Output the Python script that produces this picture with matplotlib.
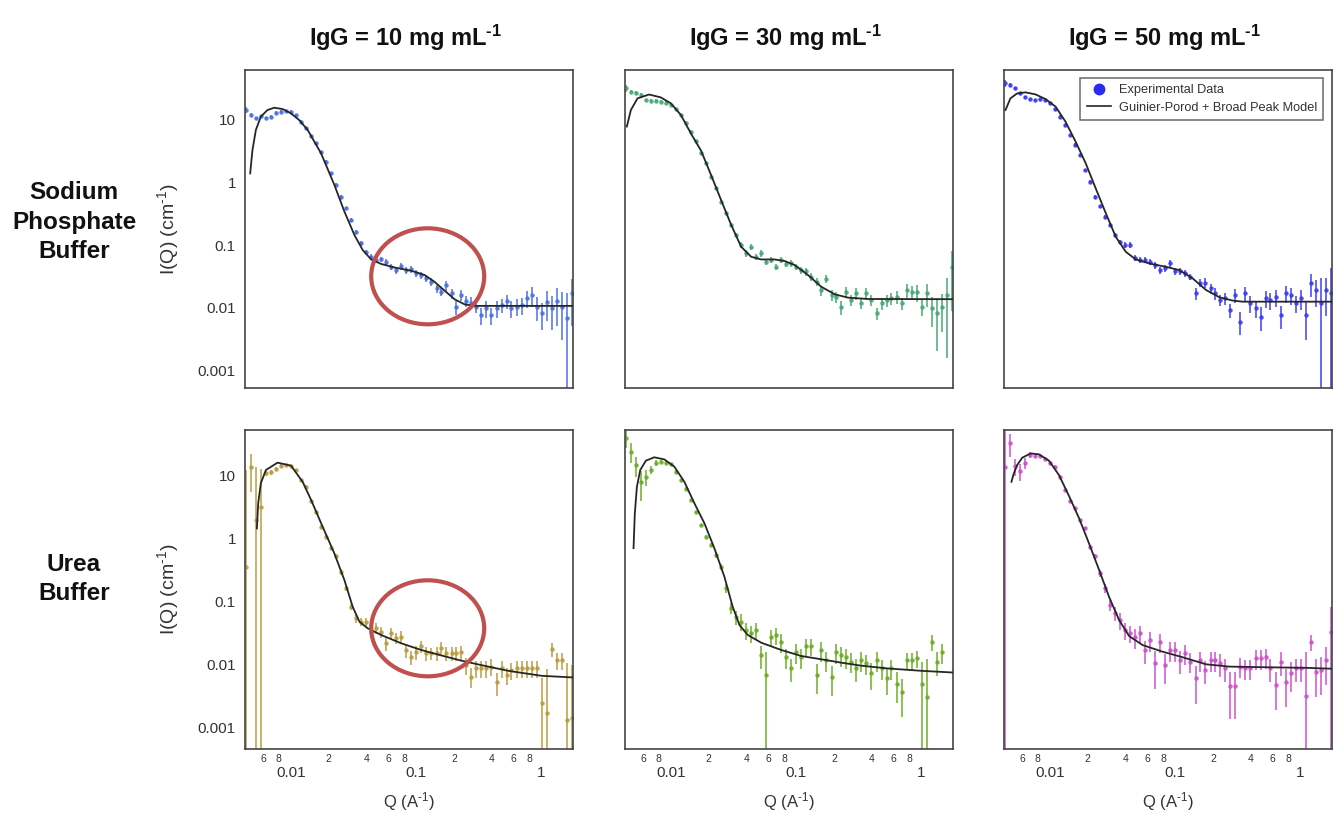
import numpy as np
import matplotlib
matplotlib.use("Agg")
import matplotlib.pyplot as plt
from matplotlib.patches import Ellipse
from matplotlib.lines import Line2D
from matplotlib.ticker import FixedLocator, FixedFormatter, NullFormatter, NullLocator

plt.rcParams['font.family'] = ['Liberation Sans', 'DejaVu Sans']
plt.rcParams['mathtext.fontset'] = 'custom'
plt.rcParams['mathtext.rm'] = 'Liberation Sans'
plt.rcParams['mathtext.it'] = 'Liberation Sans'
plt.rcParams['mathtext.bf'] = 'Liberation Sans:bold'

# ---------------- data ----------------
q = [0.00437, 0.00479, 0.00525, 0.00575, 0.00631, 0.00692, 0.00759, 0.00832, 0.00912, 0.0100,
     0.0110, 0.0120, 0.0132, 0.0145, 0.0158, 0.0174, 0.0191, 0.0209, 0.0229, 0.0251,
     0.0275, 0.0302, 0.0331, 0.0363, 0.0398, 0.0437, 0.0479, 0.0525, 0.0575, 0.0631,
     0.0692, 0.0759, 0.0832, 0.0912, 0.100, 0.110, 0.120, 0.132, 0.145, 0.158,
     0.174, 0.191, 0.209, 0.229, 0.251, 0.275, 0.302, 0.331, 0.363, 0.398,
     0.437, 0.479, 0.525, 0.575, 0.631, 0.692, 0.759, 0.832, 0.912, 1.00,
     1.10, 1.20, 1.32, 1.45, 1.58, 1.74]

# Sodium phosphate buffer
i_np10 = [14.0, 11.6, 10.2, 11.1, 10.2, 10.9, 12.6, 13.1, 13.4, 13.1,
          11.6, 9.1, 7.1, 5.4, 4.1, 3.0, 2.1, 1.37, 0.90, 0.58,
          0.38, 0.25, 0.163, 0.106, 0.078, 0.065, 0.058, 0.059, 0.054, 0.045,
          0.040, 0.046, 0.040, 0.041, 0.0355, 0.033, 0.0295, 0.026, 0.0205, 0.018,
          0.023, 0.017, 0.0105, 0.016, 0.013, 0.0122, 0.0105, 0.0077, 0.0099, 0.0077,
          0.0099, 0.0112, 0.0130, 0.0099, 0.0105, 0.0112, 0.0142, 0.016, 0.0105, 0.0082,
          0.0126, 0.0099, 0.0130, 0.0105, 0.0069, 0.017]
err_np10 = [0.10, 0.08, 0.06, 0.06, 0.05, 0.05, 0.05, 0.05, 0.05, 0.05,
            0.05, 0.05, 0.05, 0.05, 0.05, 0.05, 0.05, 0.05, 0.06, 0.06,
            0.06, 0.06, 0.08, 0.08, 0.08, 0.10, 0.10, 0.10, 0.10, 0.10,
            0.12, 0.12, 0.12, 0.12, 0.12, 0.12, 0.12, 0.14, 0.15, 0.15,
            0.18, 0.18, 0.25, 0.20, 0.20, 0.22, 0.22, 0.30, 0.30, 0.30,
            0.30, 0.25, 0.25, 0.30, 0.30, 0.30, 0.30, 0.35, 0.40, 0.45,
            0.50, 0.55, 0.60, 0.70, 1.50, 0.70]
i_np30 = [31.0, 27.0, 26.0, 24.0, 20.0, 19.5, 19.5, 18.8, 18.2, 16.7,
          14.2, 11.6, 8.7, 6.3, 4.4, 2.85, 1.98, 1.22, 0.79, 0.49,
          0.32, 0.21, 0.144, 0.10, 0.074, 0.094, 0.065, 0.074, 0.054, 0.058,
          0.045, 0.058, 0.050, 0.051, 0.045, 0.040, 0.038, 0.0315, 0.026, 0.019,
          0.029, 0.016, 0.0148, 0.0105, 0.018, 0.0133, 0.017, 0.012, 0.017, 0.0133,
          0.0082, 0.012, 0.0133, 0.0142, 0.015, 0.012, 0.019, 0.018, 0.018, 0.0105,
          0.017, 0.0099, 0.0082, 0.0105, 0.016, 0.045]
err_np30 = [0.12, 0.08, 0.06, 0.06, 0.05, 0.05, 0.05, 0.05, 0.05, 0.05,
            0.05, 0.05, 0.05, 0.05, 0.05, 0.05, 0.05, 0.06, 0.06, 0.06,
            0.06, 0.08, 0.08, 0.10, 0.12, 0.12, 0.12, 0.12, 0.12, 0.12,
            0.12, 0.12, 0.12, 0.12, 0.12, 0.12, 0.14, 0.15, 0.15, 0.18,
            0.15, 0.20, 0.20, 0.25, 0.20, 0.20, 0.20, 0.20, 0.20, 0.20,
            0.22, 0.22, 0.22, 0.22, 0.22, 0.22, 0.25, 0.25, 0.30, 0.30,
            0.40, 0.50, 0.75, 0.60, 0.90, 0.80]
i_np50 = [37.0, 35.0, 30.7, 25.5, 22.0, 20.5, 20.0, 20.7, 20.0, 17.7,
          14.2, 10.9, 8.0, 5.6, 3.9, 2.7, 1.55, 1.01, 0.58, 0.41,
          0.28, 0.21, 0.144, 0.113, 0.10, 0.10, 0.062, 0.058, 0.058, 0.054,
          0.048, 0.040, 0.043, 0.051, 0.038, 0.038, 0.0355, 0.0315, 0.017, 0.025,
          0.025, 0.0205, 0.017, 0.0133, 0.0142, 0.0093, 0.016, 0.0061, 0.017, 0.012,
          0.0099, 0.0073, 0.0142, 0.0133, 0.015, 0.0077, 0.017, 0.016, 0.012, 0.0142,
          0.0077, 0.025, 0.019, 0.012, 0.019, 0.017]
err_np50 = [0.12, 0.08, 0.06, 0.06, 0.05, 0.05, 0.05, 0.05, 0.05, 0.05,
            0.05, 0.05, 0.05, 0.05, 0.05, 0.05, 0.05, 0.05, 0.06, 0.06,
            0.06, 0.06, 0.08, 0.08, 0.10, 0.10, 0.10, 0.10, 0.10, 0.12,
            0.12, 0.12, 0.12, 0.12, 0.12, 0.12, 0.12, 0.12, 0.20, 0.15,
            0.18, 0.18, 0.20, 0.20, 0.22, 0.25, 0.25, 0.40, 0.25, 0.30,
            0.30, 0.40, 0.30, 0.30, 0.30, 0.40, 0.30, 0.30, 0.30, 0.35,
            0.60, 0.40, 0.45, 1.50, 0.60, 1.50]

# Urea buffer
i_urea10 = [0.35, 13.5, 1.93, 3.1, 10.6, 11.0, 12.5, 14.0, 14.5, 13.9,
            12.0, 8.3, 6.5, 3.8, 2.6, 1.51, 1.05, 0.69, 0.51, 0.29,
            0.16, 0.081, 0.053, 0.047, 0.047, 0.0326, 0.037, 0.0326, 0.0213, 0.0307,
            0.0256, 0.027, 0.0166, 0.013, 0.0156, 0.019, 0.0148, 0.0148, 0.0148, 0.018,
            0.0148, 0.0148, 0.0148, 0.0156, 0.0096, 0.0063, 0.0085, 0.0085, 0.0085, 0.0091,
            0.0052, 0.0085, 0.0067, 0.0080, 0.0085, 0.0085, 0.0085, 0.0085, 0.0085, 0.0024,
            0.00166, 0.0172, 0.0116, 0.0116, 0.00129, 0.0014]
err_urea10 = [33.0, 0.60, 6.0, 3.0, 0.10, 0.10, 0.08, 0.06, 0.05, 0.05,
              0.05, 0.05, 0.05, 0.05, 0.05, 0.05, 0.06, 0.08, 0.10, 0.10,
              0.10, 0.12, 0.15, 0.15, 0.15, 0.20, 0.20, 0.20, 0.25, 0.20,
              0.20, 0.22, 0.25, 0.25, 0.25, 0.22, 0.25, 0.22, 0.25, 0.22,
              0.25, 0.25, 0.25, 0.25, 0.30, 0.35, 0.30, 0.30, 0.30, 0.30,
              0.40, 0.30, 0.30, 0.30, 0.30, 0.30, 0.30, 0.30, 0.30, 1.50,
              4.00, 0.25, 0.30, 0.30, 7.00, 6.00]
i_urea30 = [38.0, 23.5, 14.4, 7.8, 9.4, 12.0, 15.7, 16.3, 15.7, 15.0,
            11.3, 8.3, 6.1, 4.0, 2.6, 1.61, 1.05, 0.77, 0.54, 0.35,
            0.16, 0.077, 0.056, 0.047, 0.0347, 0.0307, 0.0347, 0.0139, 0.0067, 0.027,
            0.0289, 0.0226, 0.013, 0.0085, 0.0156, 0.013, 0.019, 0.019, 0.0067, 0.0166,
            0.0116, 0.0063, 0.0156, 0.0139, 0.013, 0.0109, 0.0085, 0.0116, 0.0103, 0.0071,
            0.0116, 0.0085, 0.0059, 0.0085, 0.0049, 0.0036, 0.0116, 0.0116, 0.0123, 0.0049,
            0.0030, 0.0226, 0.0109, 0.0156, float('nan'), float('nan')]
err_urea30 = [0.30, 0.35, 0.35, 0.50, 0.30, 0.15, 0.10, 0.05, 0.05, 0.05,
              0.05, 0.05, 0.05, 0.05, 0.05, 0.05, 0.06, 0.08, 0.10, 0.12,
              0.15, 0.20, 0.25, 0.30, 0.30, 0.30, 0.30, 0.40, 1.30, 0.30,
              0.30, 0.35, 0.35, 0.40, 0.35, 0.35, 0.30, 0.30, 0.50, 0.35,
              0.35, 0.50, 0.35, 0.35, 0.35, 0.35, 0.40, 0.35, 0.35, 0.45,
              0.35, 0.35, 0.45, 0.35, 0.50, 0.60, 0.30, 0.30, 0.30, 1.20,
              3.00, 0.30, 0.40, 0.35, 0.30, 0.30]
i_urea50 = [13.5, 32.0, 14.0, 11.5, 15.3, 21.0, 20.0, 20.0, 18.0, 15.3,
            13.5, 9.4, 5.8, 3.8, 2.96, 1.93, 1.42, 0.73, 0.51, 0.275,
            0.16, 0.086, 0.064, 0.050, 0.0347, 0.0307, 0.027, 0.0307, 0.0166, 0.024,
            0.0102, 0.0226, 0.0096, 0.0166, 0.0166, 0.0116, 0.0148, 0.0109, 0.0059, 0.0116,
            0.0080, 0.0116, 0.0116, 0.0102, 0.0085, 0.0044, 0.0044, 0.0091, 0.0085, 0.0085,
            0.0123, 0.0123, 0.0130, 0.0085, 0.0047, 0.0109, 0.0052, 0.0071, 0.0085, 0.0085,
            0.0031, 0.0226, 0.0076, 0.0080, 0.0116, 0.032]
err_urea50 = [5.00, 0.40, 0.30, 0.30, 0.20, 0.10, 0.05, 0.05, 0.05, 0.05,
              0.05, 0.05, 0.05, 0.05, 0.05, 0.05, 0.06, 0.08, 0.10, 0.12,
              0.15, 0.20, 0.25, 0.30, 0.30, 0.30, 0.35, 0.30, 0.40, 0.35,
              0.60, 0.35, 0.50, 0.35, 0.35, 0.40, 0.35, 0.35, 0.60, 0.35,
              0.40, 0.35, 0.35, 0.40, 0.40, 0.70, 0.70, 0.35, 0.35, 0.35,
              0.35, 0.35, 0.35, 0.40, 0.60, 0.40, 0.60, 0.50, 0.40, 0.40,
              4.00, 0.30, 0.60, 0.60, 0.60, 1.50]

# Guinier-Porod + Broad Peak model curves
mq_np10 = [0.00473, 0.00493, 0.00525, 0.00575, 0.0065, 0.00736, 0.00858, 0.0100, 0.01166, 0.0136,
           0.0174, 0.0222, 0.0267, 0.0321, 0.0374, 0.0437, 0.0525, 0.0671, 0.0912, 0.1166,
           0.140, 0.1686, 0.2027, 0.2437, 0.293, 1.85]
mi_np10 = [1.37, 3.2, 6.7, 10.9, 13.9, 15.1, 14.4, 12.3, 9.6, 6.7,
           2.85, 0.90, 0.34, 0.144, 0.083, 0.059, 0.050, 0.044, 0.039, 0.0334,
           0.026, 0.0188, 0.0137, 0.0114, 0.0108, 0.0108]
mq_np30 = [0.00445, 0.00479, 0.00541, 0.00671, 0.00832, 0.0100, 0.0120, 0.0145, 0.0174, 0.0209,
           0.0251, 0.0302, 0.0363, 0.0437, 0.0525, 0.0671, 0.0807, 0.097, 0.124, 0.158,
           0.2027, 0.259, 0.374, 1.85]
mi_np30 = [7.6, 13.9, 21.3, 24.5, 22.0, 17.7, 11.6, 5.8, 3.14, 1.29,
           0.52, 0.21, 0.094, 0.065, 0.059, 0.059, 0.0557, 0.048, 0.0334, 0.0218,
           0.0165, 0.0146, 0.0139, 0.0138]
mq_np50 = [0.00442, 0.00484, 0.00548, 0.00638, 0.00767, 0.00923, 0.0111, 0.0133, 0.0160, 0.0193,
           0.0232, 0.0279, 0.0335, 0.0403, 0.0484, 0.0619, 0.0842, 0.1076, 0.1377, 0.176,
           0.225, 0.288, 0.346, 1.85]
mi_np50 = [13.9, 21.3, 25.5, 26.5, 24.6, 20.7, 15.7, 9.1, 4.4, 1.98,
           0.79, 0.32, 0.135, 0.078, 0.059, 0.051, 0.045, 0.040, 0.0295, 0.0193,
           0.0148, 0.0131, 0.0126, 0.0126]
mq_urea10 = [0.00535, 0.00548, 0.00575, 0.00631, 0.00782, 0.0100, 0.0124, 0.0145, 0.0179, 0.0222,
             0.0267, 0.0311, 0.0352, 0.0410, 0.0525, 0.0759, 0.1096, 0.158, 0.229, 0.331,
             0.541, 1.00, 1.85]
mi_urea10 = [1.42, 3.55, 7.4, 12.0, 15.7, 14.1, 7.8, 4.0, 1.51, 0.57,
             0.215, 0.081, 0.047, 0.0368, 0.0289, 0.0213, 0.0167, 0.0137, 0.0113, 0.0096,
             0.0078, 0.0065, 0.0061]
mq_urea30 = [0.00503, 0.00515, 0.00535, 0.00569, 0.00631, 0.00736, 0.00885, 0.01063, 0.0128, 0.0154,
             0.0185, 0.0222, 0.0267, 0.0311, 0.0352, 0.0410, 0.0525, 0.0759, 0.1096, 0.158,
             0.229, 0.331, 0.541, 1.00, 1.85]
mi_urea30 = [0.69, 2.46, 6.5, 12.0, 16.9, 19.1, 17.7, 13.6, 7.8, 3.55,
             1.71, 0.69, 0.243, 0.081, 0.0416, 0.0289, 0.0218, 0.0167, 0.0134, 0.0119,
             0.0105, 0.0094, 0.0085, 0.0078, 0.0073]
mq_urea50 = [0.00493, 0.00515, 0.00548, 0.00601, 0.0070, 0.00817, 0.00982, 0.0118, 0.0142, 0.0171,
             0.0205, 0.0247, 0.0296, 0.0356, 0.0428, 0.0548, 0.0792, 0.1146, 0.176, 0.270,
             0.50, 1.11, 1.85]
mi_urea50 = [7.8, 10.6, 14.4, 18.8, 22.0, 21.3, 16.9, 10.0, 4.64, 2.05,
             0.82, 0.31, 0.117, 0.050, 0.0278, 0.020, 0.0157, 0.0128, 0.0099, 0.0091,
             0.0089, 0.0087, 0.0084]

HY = "\u2010"  # hyphen used in superscripts
col_titles = ["IgG = 10 mg mL$^{\\mathbf{" + HY + "1}}$", "IgG = 30 mg mL$^{\\mathbf{" + HY + "1}}$",
              "IgG = 50 mg mL$^{\\mathbf{" + HY + "1}}$"]
row_titles = ["Sodium\nPhosphate\nBuffer", "Urea\nBuffer"]
y_title = "I(Q) (cm$^{" + HY + "1}$)"
x_title = "Q (A$^{" + HY + "1}$)"
y_ticks = [0.001, 0.01, 0.1, 1, 10]
y_ticklabels = ["0.001", "0.01", "0.1", "1", "10"]
x_major = [0.01, 0.1, 1]
x_major_labels = ["0.01", "0.1", "1"]
x_minor = [0.006, 0.008, 0.02, 0.04, 0.06, 0.08, 0.2, 0.4, 0.6, 0.8]
x_minor_labels = ["6", "8", "2", "4", "6", "8", "2", "4", "6", "8"]
legend_labels = ["Experimental Data", "Guinier-Porod + Broad Peak Model"]

panels = [
    (0, 0, i_np10, err_np10, mq_np10, mi_np10, "#4a6fe3"),
    (0, 1, i_np30, err_np30, mq_np30, mi_np30, "#45a874"),
    (0, 2, i_np50, err_np50, mq_np50, mi_np50, "#3a3af2"),
    (1, 0, i_urea10, err_urea10, mq_urea10, mi_urea10, "#bb9a3f"),
    (1, 1, i_urea30, err_urea30, mq_urea30, mi_urea30, "#6aac24"),
    (1, 2, i_urea50, err_urea50, mq_urea50, mi_urea50, "#cc4fcc"),
]

# ---------------- layout ----------------
W, H = 1343, 822
fig = plt.figure(figsize=(W / 100, H / 100), dpi=100)
col_x = [245, 625, 1004]
ax_w = 328
row_y = [(70, 388), (430, 749)]
ylims = [(0.000537, 60.0), (0.000448, 51.8)]
xlim = (0.0043, 1.78)
tick_col = "#333333"

axes = {}
for (r, c, ivals, evals, mq, mi, color) in panels:
    y0, y1 = row_y[r]
    x0 = col_x[c]
    ax = fig.add_axes([x0 / W, 1 - y1 / H, ax_w / W, (y1 - y0) / H])
    axes[(r, c)] = ax
    ax.set_xscale('log')
    ax.set_yscale('log')
    I = np.array(ivals, dtype=float)
    rr = np.array(evals, dtype=float)
    upper = I * rr
    lower = np.where(rr >= 1.0, I - 1e-6, I * rr)
    ax.errorbar(q, I, yerr=[lower, upper], fmt='o', color=color, ecolor=color,
                elinewidth=1.2, ms=3.2, mew=0, capsize=0, alpha=0.9, zorder=2)
    ax.plot(mq, mi, color='#262626', lw=1.3, zorder=3)
    ax.set_xlim(*xlim)
    ax.set_ylim(*ylims[r])
    for s in ax.spines.values():
        s.set_color('#444444')
        s.set_linewidth(1.2)
    ax.yaxis.set_major_locator(FixedLocator(y_ticks))
    ax.yaxis.set_minor_locator(NullLocator())
    if c == 0:
        ax.yaxis.set_major_formatter(FixedFormatter(y_ticklabels))
        ax.set_ylabel(y_title, fontsize=14, color=tick_col)
        ax.yaxis.set_label_coords(-(245 - 181) / ax_w, 0.5)
    else:
        ax.yaxis.set_major_formatter(NullFormatter())
    ax.xaxis.set_major_locator(FixedLocator(x_major))
    ax.xaxis.set_minor_locator(FixedLocator(x_minor))
    if r == 1:
        ax.xaxis.set_major_formatter(FixedFormatter(x_major_labels))
        ax.xaxis.set_minor_formatter(FixedFormatter(x_minor_labels))
        ax.set_xlabel(x_title, fontsize=12, color=tick_col)
        ax.xaxis.set_label_coords(0.5, -(790 - 749) / (y1 - y0))
    else:
        ax.xaxis.set_major_formatter(NullFormatter())
        ax.xaxis.set_minor_formatter(NullFormatter())
    ax.tick_params(axis='y', which='both', length=0, pad=6.5, labelsize=11, labelcolor=tick_col)
    ax.tick_params(axis='x', which='major', length=0, pad=12.5, labelsize=11, labelcolor=tick_col)
    ax.tick_params(axis='x', which='minor', length=0, pad=3.5, labelsize=7.5, labelcolor=tick_col)

# legend in the top-right panel
handles = [Line2D([], [], marker='o', ls='none', color='#2a2af0', ms=7.5),
           Line2D([], [], color='#262626', lw=1.2)]
leg = axes[(0, 2)].legend(handles, legend_labels, loc='upper right',
                          bbox_to_anchor=(0.973, 0.976), fontsize=9.2, frameon=True,
                          fancybox=False, handlelength=1.9, handletextpad=0.6,
                          borderpad=0.5, labelspacing=0.45, borderaxespad=0)
leg.get_frame().set_edgecolor('#444444')
leg.get_frame().set_linewidth(1.1)
for t in leg.get_texts():
    t.set_color(tick_col)

# column titles
for c, t in enumerate(col_titles):
    cx = (col_x[c] + ax_w / 2 - 4) / W
    fig.text(cx, 1 - 38 / H, t, ha='center', va='center', fontsize=17,
             fontweight='bold', color='#111111')

# row titles
fig.text(74 / W, 1 - 222 / H, row_titles[0], ha='center', va='center', fontsize=17.5,
         fontweight='bold', linespacing=1.38, color='#111111')
fig.text(74 / W, 1 - 579 / H, row_titles[1], ha='center', va='center', fontsize=17.5,
         fontweight='bold', linespacing=1.38, color='#111111')

# red highlight ellipses
for cy in (276.3, 628.3):
    e = Ellipse((427.7 / W, 1 - cy / H), 113 / W, 96 / H, transform=fig.transFigure,
                fill=False, ec='#c0504d', lw=3.0, zorder=10)
    fig.add_artist(e)

fig.savefig("out.png", dpi=100, facecolor='white')
